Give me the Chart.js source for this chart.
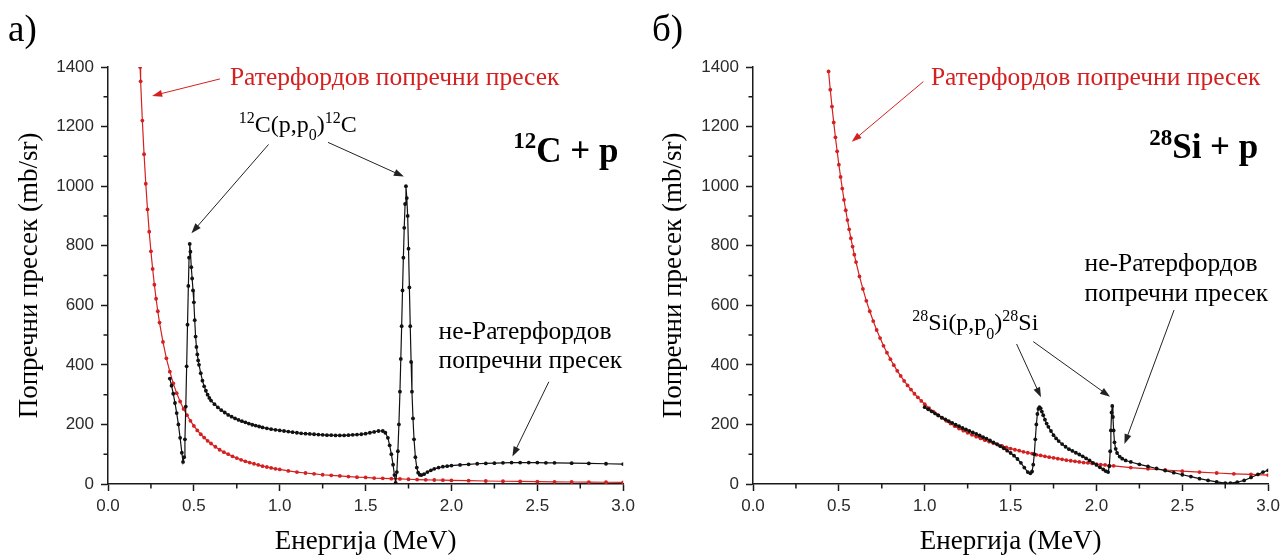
<!DOCTYPE html>
<html>
<head>
<meta charset="utf-8">
<script src="https://cdn.jsdelivr.net/npm/chart.js@4.4.1/dist/chart.umd.min.js"></script>
<style>
  html, body { margin: 0; padding: 0; background: #fff; }
  #wrap { position: relative; width: 1285px; height: 556px; overflow: hidden; background: #fff; }
  canvas { position: absolute; top: 0; }
  #chartC { left: 0; }
  #chartSi { left: 640px; }
</style>
</head>
<body>
<div id="wrap">
  <canvas id="chartC" width="640" height="556"></canvas>
  <canvas id="chartSi" width="645" height="556"></canvas>
</div>
<script>
// ---- data: [energy MeV, cross section mb/sr] ----
const carbonRutherford = [
  [0.187,1400],[0.19,1352],[0.20,1220],[0.21,1107],[0.22,1008],[0.23,922],[0.24,847],[0.25,781],
  [0.26,722],[0.27,669],[0.28,622],[0.29,580],[0.30,542],[0.32,477],[0.34,422],[0.36,377],
  [0.38,338],[0.40,305],[0.42,277],[0.44,252],[0.46,231],[0.48,212],[0.50,195],[0.52,180],
  [0.54,167],[0.56,156],[0.58,145],[0.60,136],[0.625,125],[0.65,115],[0.675,107],[0.70,100],
  [0.725,93],[0.75,87],[0.775,81],[0.80,76],[0.825,72],[0.85,68],[0.875,64],[0.90,60],
  [0.925,57],[0.95,54],[0.975,51],[1.00,49],[1.05,44],[1.10,40],[1.15,37],[1.20,34],
  [1.25,31],[1.30,29],[1.35,27],[1.40,25],[1.45,23],[1.50,22],[1.55,20],[1.60,19],
  [1.65,18],[1.70,17],[1.75,16],[1.80,15],[1.85,14],[1.90,13.5],[1.95,13],[2.00,12],
  [2.10,11],[2.20,10],[2.30,9.2],[2.40,8.5],[2.50,7.8],[2.60,7.2],[2.70,6.7],[2.80,6.2],
  [2.90,5.8],[3.00,5.4]
];

const carbonMeasured = [
  [0.36,354],[0.37,330],[0.38,303],[0.39,272],[0.40,238],[0.41,200],[0.42,155],[0.43,105],
  [0.437,74],[0.443,90],[0.448,150],[0.453,260],[0.458,395],[0.463,535],[0.468,665],[0.472,760],
  [0.476,806],[0.480,780],[0.485,728],[0.490,690],[0.495,650],[0.500,610],[0.505,550],[0.510,495],
  [0.515,460],[0.520,435],[0.525,415],[0.530,400],[0.540,372],[0.550,347],[0.560,328],[0.570,313],
  [0.580,300],[0.590,289],[0.600,280],[0.620,268],[0.640,257],[0.660,248],[0.680,240],[0.700,232],
  [0.720,226],[0.740,220],[0.760,215],[0.780,211],[0.800,207],[0.820,203],[0.840,199],[0.860,196],
  [0.880,193],[0.900,190],[0.925,187],[0.950,184],[0.975,182],[1.000,180],[1.025,178],[1.050,176],
  [1.075,174],[1.100,172],[1.125,170],[1.150,169],[1.175,168],[1.200,167],[1.225,166],[1.250,165],
  [1.275,164],[1.300,164],[1.325,163],[1.350,163],[1.375,163],[1.400,164],[1.425,165],[1.450,166],
  [1.475,167],[1.500,169],[1.525,172],[1.550,175],[1.575,178],[1.600,178],[1.615,172],[1.630,155],
  [1.640,130],[1.650,100],[1.660,65],[1.668,30],[1.675,4],[1.682,40],[1.688,110],[1.694,200],
  [1.700,310],[1.705,420],[1.710,530],[1.715,650],[1.720,760],[1.725,860],[1.730,940],[1.735,1000],
  [1.740,960],[1.745,900],[1.750,790],[1.755,660],[1.760,530],[1.765,410],[1.770,310],[1.776,220],
  [1.782,150],[1.790,90],[1.798,55],[1.806,38],[1.815,31],[1.825,30],[1.840,33],[1.860,40],
  [1.880,46],[1.900,51],[1.925,55],[1.950,58],[1.975,60],[2.000,62],[2.050,64],[2.100,66],
  [2.150,68],[2.200,69],[2.250,70],[2.300,71],[2.350,72],[2.400,72],[2.450,72],[2.500,72],
  [2.550,71],[2.600,71],[2.700,70],[2.800,69],[2.900,68],[3.000,67]
];

const siliconRutherford = [
  [0.44,1385],[0.45,1324],[0.46,1267],[0.47,1214],[0.48,1164],[0.49,1117],[0.50,1072],[0.51,1031],
  [0.52,992],[0.53,954],[0.54,919],[0.55,886],[0.56,855],[0.57,825],[0.58,797],[0.59,770],
  [0.60,745],[0.62,697],[0.64,655],[0.66,615],[0.68,580],[0.70,547],[0.72,517],[0.74,490],
  [0.76,464],[0.78,441],[0.80,419],[0.82,399],[0.84,380],[0.86,363],[0.88,346],[0.90,331],
  [0.92,317],[0.94,303],[0.96,291],[0.98,279],[1.00,268],[1.025,255],[1.05,243],[1.075,232],
  [1.10,222],[1.125,212],[1.15,203],[1.175,194],[1.20,186],[1.225,179],[1.25,172],[1.275,165],
  [1.30,159],[1.325,153],[1.35,147],[1.375,142],[1.40,137],[1.425,132],[1.45,128],[1.475,123],
  [1.50,119],[1.525,115],[1.55,112],[1.575,108],[1.60,105],[1.625,102],[1.65,98],[1.675,96],
  [1.70,93],[1.725,90],[1.75,88],[1.775,85],[1.80,83],[1.825,80],[1.85,78],[1.875,76],
  [1.90,74],[1.925,72],[1.95,71],[1.975,69],[2.00,67],[2.025,65],[2.05,64],[2.075,62],
  [2.10,61],[2.20,55],[2.30,51],[2.40,47],[2.50,43],[2.60,40],[2.70,37],[2.80,34],
  [2.90,32],[3.00,30]
];

const siliconMeasured = [
  [1.00,258],[1.02,251],[1.04,244],[1.06,237],[1.08,230],[1.10,223],[1.12,217],[1.14,211],
  [1.16,205],[1.18,199],[1.20,194],[1.22,188],[1.24,183],[1.26,178],[1.28,173],[1.30,168],
  [1.32,163],[1.34,157],[1.36,152],[1.38,146],[1.40,140],[1.42,134],[1.44,127],[1.46,120],
  [1.48,112],[1.50,104],[1.52,95],[1.54,84],[1.56,71],[1.58,55],[1.60,40],[1.615,36],
  [1.625,42],[1.632,65],[1.638,100],[1.644,150],[1.650,200],[1.656,235],[1.662,252],[1.668,258],
  [1.675,254],[1.682,243],[1.690,231],[1.700,216],[1.710,203],[1.720,192],[1.735,178],[1.750,164],
  [1.765,153],[1.780,144],[1.800,134],[1.820,125],[1.840,117],[1.860,111],[1.880,105],[1.900,99],
  [1.920,93],[1.940,86],[1.960,79],[1.980,71],[2.000,64],[2.020,56],[2.040,49],[2.055,43],
  [2.068,40],[2.075,60],[2.080,110],[2.084,180],[2.088,240],[2.092,262],[2.096,225],[2.100,180],
  [2.105,140],[2.112,118],[2.120,104],[2.135,92],[2.150,85],[2.170,79],[2.200,74],[2.250,66],
  [2.300,59],[2.350,52],[2.400,45],[2.450,38],[2.500,31],[2.550,25],[2.600,18],[2.650,12],
  [2.700,7],[2.750,3],[2.780,3],[2.820,6],[2.860,12],[2.900,22],[2.940,32],[2.970,40],
  [3.000,46]
];

const energyRange = [0, 3];
const energyStep = 0.5;
const sigmaRange = [0, 1400];
const sigmaStep = 200;

const RED = '#d42020';
const INK = '#111';
const AXIS = '#1a1a1a';
const SERIF = '"Liberation Serif", "Times New Roman", serif';
const SANS = '"Liberation Sans", Arial, sans-serif';

// annotations, anchored in data units
const NOTES = {
  chartC: {
    letter: 'а)', letterX: 8,
    texts: [
      { at: [0.710, 1340], size: 25.5, color: RED, parts: [['Ратерфордов попречни пресек']] },
      { at: [0.762, 1183], size: 24, color: '#000', parts: [['12', 'sup'], ['C(p,p'], ['0', 'sub'], [')'], ['12', 'sup'], ['C']] },
      { at: [2.36, 1082], size: 35, bold: true, color: '#000', parts: [['12', 'sup'], ['C + p']] },
      { at: [1.925, 486], size: 25.5, color: '#000', parts: [['не-Ратерфордов']] },
      { at: [1.925, 389], size: 25.5, color: '#000', parts: [['попречни пресек']] }
    ],
    arrows: [
      { from: [0.652, 1360], to: [0.257, 1303], color: RED },
      { from: [0.935, 1140], to: [0.486, 842], color: '#222' },
      { from: [1.281, 1147], to: [1.723, 1032], color: '#222' },
      { from: [2.567, 343], to: [2.355, 92], color: '#222' }
    ]
  },
  chartSi: {
    letter: 'б)', letterX: 12,
    texts: [
      { at: [1.036, 1340], size: 25.5, color: RED, parts: [['Ратерфордов попречни пресек']] },
      { at: [0.928, 517], size: 24, color: '#000', parts: [['28', 'sup'], ['Si(p,p'], ['0', 'sub'], [')'], ['28', 'sup'], ['Si']] },
      { at: [2.307, 1093], size: 35, bold: true, color: '#000', parts: [['28', 'sup'], ['Si + p']] },
      { at: [1.931, 716], size: 25.5, color: '#000', parts: [['не-Ратерфордов']] },
      { at: [1.931, 614], size: 25.5, color: '#000', parts: [['попречни пресек']] }
    ],
    arrows: [
      { from: [0.992, 1351], to: [0.575, 1149], color: RED },
      { from: [1.535, 470], to: [1.677, 291], color: '#222' },
      { from: [1.632, 478], to: [2.079, 293], color: '#222' },
      { from: [2.452, 584], to: [2.163, 134], color: '#222' }
    ]
  }
};

function drawRich(ctx, x, y, parts, size, bold, color) {
  let cx = x;
  ctx.fillStyle = color;
  ctx.textAlign = 'left';
  ctx.textBaseline = 'alphabetic';
  for (const [t, kind] of parts) {
    const s = kind ? Math.round(size * 0.65) : size;
    ctx.font = `${bold ? 'bold ' : ''}${s}px ${SERIF}`;
    const dy = kind === 'sup' ? -size * 0.38 : kind === 'sub' ? size * 0.36 : 0;
    ctx.fillText(t, cx, y + dy);
    cx += ctx.measureText(t).width;
  }
}

function drawArrow(ctx, x1, y1, x2, y2, color) {
  const a = Math.atan2(y2 - y1, x2 - x1);
  const L = 10, W = 3.5;
  const c = Math.cos(a), s = Math.sin(a);
  ctx.strokeStyle = color;
  ctx.fillStyle = color;
  ctx.lineWidth = 1;
  ctx.beginPath();
  ctx.moveTo(x1, y1);
  ctx.lineTo(x2 - L * 0.8 * c, y2 - L * 0.8 * s);
  ctx.stroke();
  ctx.beginPath();
  ctx.moveTo(x2, y2);
  ctx.lineTo(x2 - L * c + W * s, y2 - L * s - W * c);
  ctx.lineTo(x2 - L * c - W * s, y2 - L * s + W * c);
  ctx.closePath();
  ctx.fill();
}

const notesPlugin = {
  id: 'notes',
  afterDraw(chart) {
    const n = NOTES[chart.canvas.id];
    if (!n) return;
    const { ctx, scales: { x, y } } = chart;
    ctx.save();
    ctx.font = `37px ${SERIF}`;
    ctx.fillStyle = '#000';
    ctx.textBaseline = 'alphabetic';
    ctx.fillText(n.letter, n.letterX, 41);
    n.arrows.forEach(a => drawArrow(ctx,
      x.getPixelForValue(a.from[0]), y.getPixelForValue(a.from[1]),
      x.getPixelForValue(a.to[0]), y.getPixelForValue(a.to[1]), a.color));
    n.texts.forEach(t => drawRich(ctx, x.getPixelForValue(t.at[0]), y.getPixelForValue(t.at[1]),
      t.parts, t.size, t.bold, t.color));
    ctx.restore();
  }
};

// short ticks halfway between the labelled ones
const minorTicksPlugin = {
  id: 'minorTicks',
  afterDraw(chart) {
    const { ctx, chartArea, scales: { x, y } } = chart;
    ctx.save();
    ctx.strokeStyle = AXIS;
    ctx.lineWidth = 1.5;
    ctx.beginPath();
    const xv = x.ticks.map(t => t.value);
    for (let i = 0; i < xv.length - 1; i++) {
      const px = x.getPixelForValue((xv[i] + xv[i + 1]) / 2);
      ctx.moveTo(px, chartArea.bottom);
      ctx.lineTo(px, chartArea.bottom + 4.5);
    }
    const yv = y.ticks.map(t => t.value);
    for (let i = 0; i < yv.length - 1; i++) {
      const py = y.getPixelForValue((yv[i] + yv[i + 1]) / 2);
      ctx.moveTo(chartArea.left, py);
      ctx.lineTo(chartArea.left - 4.5, py);
    }
    ctx.stroke();
    ctx.restore();
  }
};

Chart.register(notesPlugin, minorTicksPlugin);

function series(pairs, color, order) {
  return {
    data: pairs.map(([e, v]) => ({ x: e, y: v })),
    showLine: true,
    borderColor: color,
    borderWidth: 1.2,
    backgroundColor: color,
    pointBackgroundColor: color,
    pointBorderWidth: 0,
    pointRadius: 1.9,
    tension: 0,
    order
  };
}

function makeChart(id, rutherford, measured, axisWidth, yTitlePad, padRight) {
  const tickFont = { family: SANS, size: 17 };
  const titleFont = { family: SERIF, size: 27, lineHeight: 1 };
  return new Chart(document.getElementById(id), {
    type: 'scatter',
    data: {
      datasets: [series(measured, INK, 0), series(rutherford, RED, 1)]
    },
    options: {
      responsive: false,
      animation: false,
      events: [],
      layout: { padding: { top: 67, right: padRight, left: 0, bottom: 0 } },
      plugins: { legend: { display: false }, tooltip: { enabled: false } },
      scales: {
        x: {
          type: 'linear',
          min: energyRange[0], max: energyRange[1],
          afterFit: s => { s.height = 72; },
          border: { color: AXIS, width: 1.5 },
          grid: { drawOnChartArea: false, tickLength: 7, tickColor: AXIS, tickWidth: 1.5 },
          ticks: { stepSize: energyStep, padding: 5, color: '#2a2a2a', font: tickFont,
                   maxRotation: 0, autoSkip: false, callback: v => v.toFixed(1) },
          title: { display: true, text: 'Енергија (MeV)', color: '#000', font: titleFont,
                   padding: { top: 0, bottom: 0.5 } }
        },
        y: {
          type: 'linear',
          min: sigmaRange[0], max: sigmaRange[1],
          afterFit: s => { s.width = axisWidth; },
          border: { color: AXIS, width: 1.5 },
          grid: { drawOnChartArea: false, tickLength: 7, tickColor: AXIS, tickWidth: 1.5 },
          ticks: { stepSize: sigmaStep, padding: 7, color: '#2a2a2a', font: tickFont,
                   callback: v => String(v) },
          title: { display: true, text: 'Попречни пресек (mb/sr)', color: '#000', font: titleFont,
                   padding: { top: yTitlePad, bottom: 0 } }
        }
      }
    }
  });
}

makeChart('chartC', carbonRutherford, carbonMeasured, 108, 16.5, 12);
makeChart('chartSi', siliconRutherford, siliconMeasured, 113, 20.5, 14);
</script>
</body>
</html>
